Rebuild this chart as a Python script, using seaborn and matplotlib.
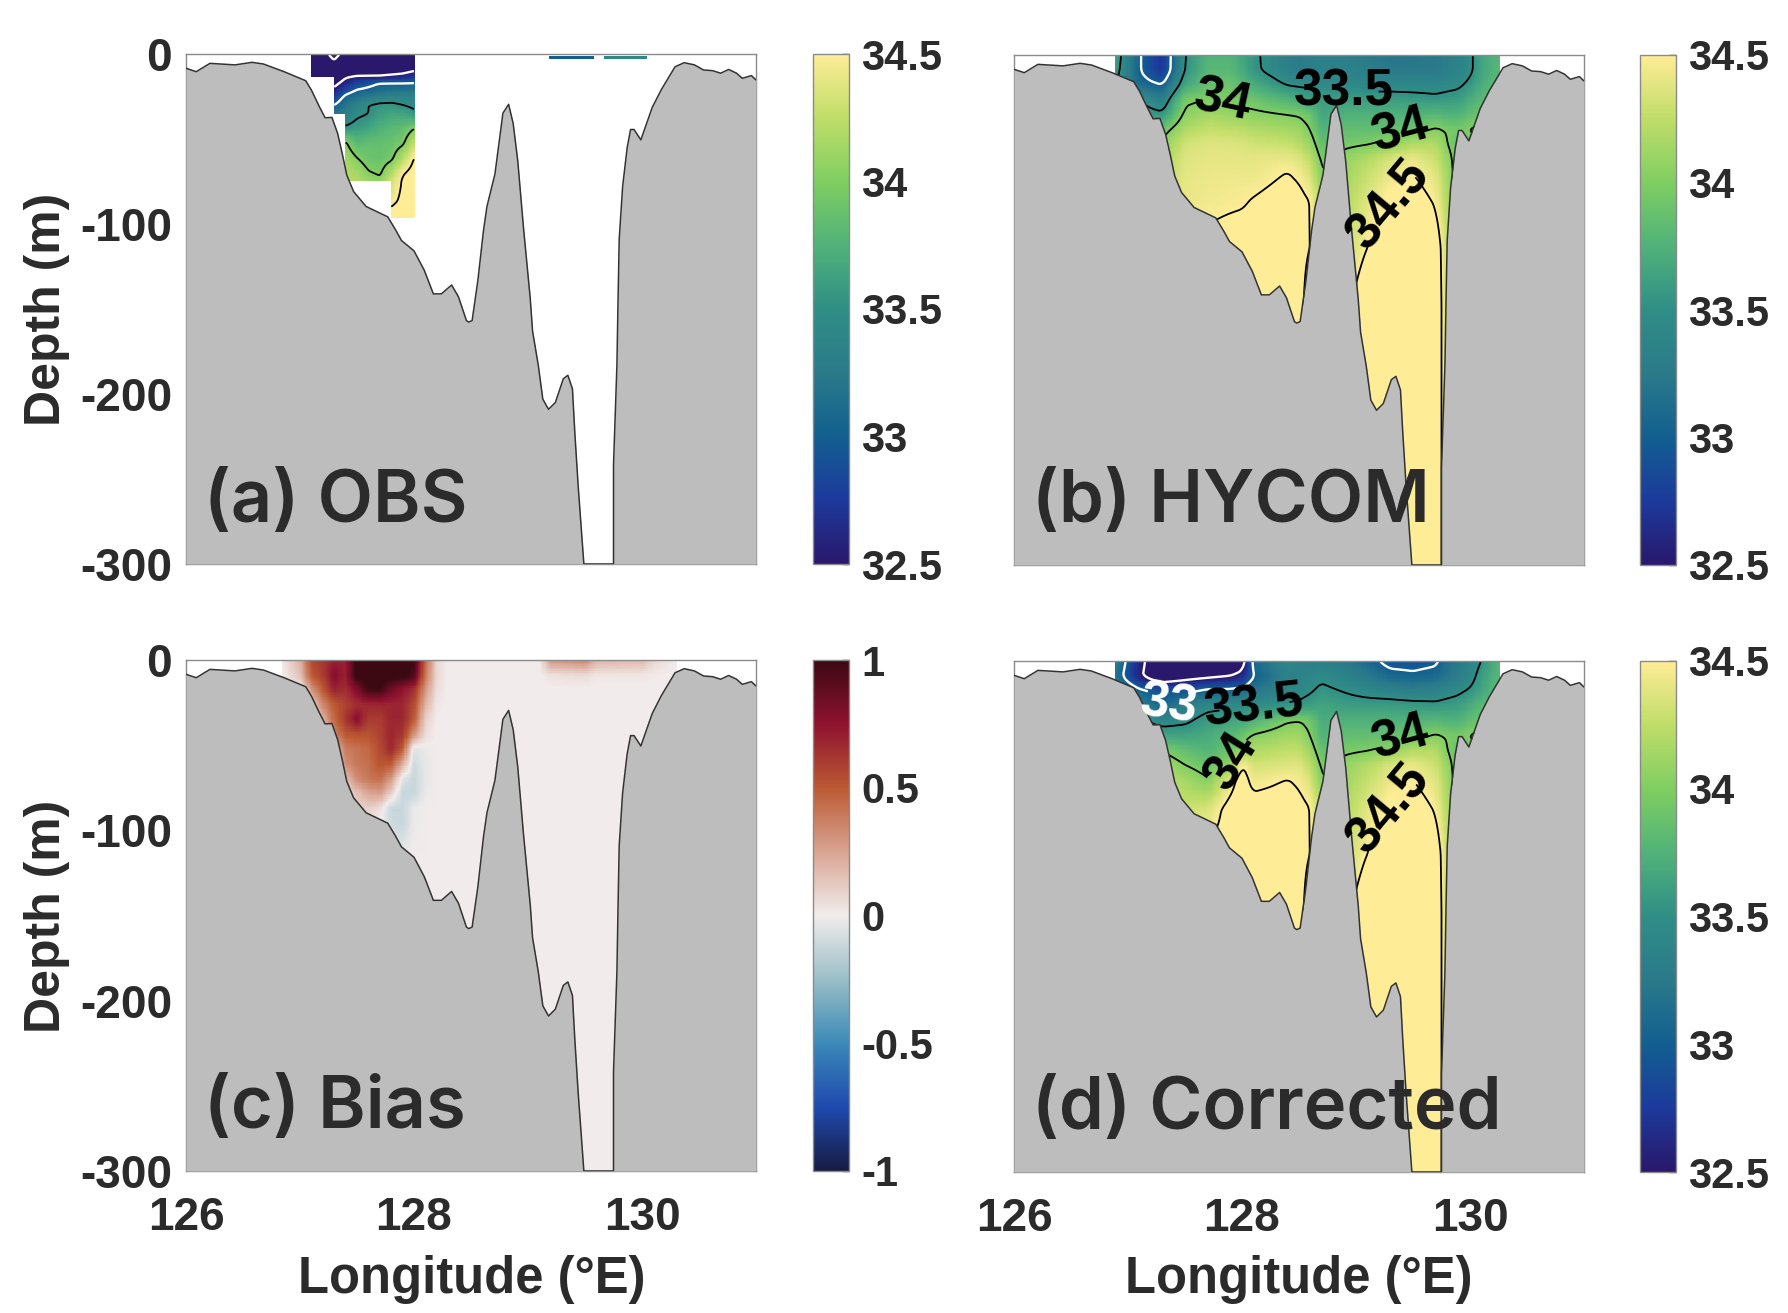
import numpy as np
import matplotlib
matplotlib.use("Agg")
import matplotlib.pyplot as plt
import seaborn as sns

# ---------- data ----------
bathy_lon = [126.00,126.09,126.21,126.43,126.58,126.68,126.86,127.05,127.10,127.17,127.22,127.28,127.33,127.37,127.41,
             127.47,127.58,127.77,127.84,127.89,128.00,128.09,128.17,128.24,128.33,128.39,128.46,128.48,128.51,128.56,
             128.61,128.64,128.71,128.78,128.83,128.87,128.91,128.96,129.02,129.04,129.09,129.13,129.18,129.24,129.31,
             129.35,129.39,129.41,129.44,129.49,129.75,129.75,129.78,129.79,129.80,129.83,129.87,129.90,129.93,129.99,130.04,
             130.09,130.17,130.29,130.37,130.46,130.54,130.62,130.69,130.76,130.83,130.88,130.96,131.00]
bathy_dep = [8.4,10.4,5.5,6.4,4.9,5.9,10.4,15.7,21.2,31,37.5,37.3,46.7,58.4,71.2,
             80.9,89.7,95.8,103.6,109.7,115.8,127.2,141.1,141.1,135.9,142.8,156.8,157.7,156.8,133.3,
             103.6,89.7,70.6,34.8,29.6,40.9,62.7,101.9,144,163,183,203,209,205,191,
             189,197,222,254,300,300,242,183,144,109,78,55,44.4,44.4,50.5,40.9,
             31.4,20.9,7.5,5.1,6.4,9.4,9.8,11.3,9.1,11.3,14.3,12.7,15.3]

grid_lon = [126.89,127.1,127.3,127.5,127.7,127.9,128.0,128.1,128.4,128.5,128.6,128.7,128.9,129.1,129.3,129.5,129.7,129.8,129.9,130.0,130.1,130.26]
grid_dep = [0,9,17,26,35,44,52,61,70,87,113,148,300]

hycom = [
 [33.65,33.02,32.7,33.5,33.75,33.75,33.65,33.55,33.3,33.25,33.3,33.3,33.3,33.25,33.2,33.2,33.25,33.3,33.35,33.45,33.65,33.8],
 [33.6,33.02,32.7,33.52,33.8,33.8,33.7,33.55,33.33,33.3,33.3,33.35,33.35,33.3,33.25,33.25,33.25,33.3,33.35,33.45,33.65,33.8],
 [33.5,33.1,32.98,33.65,33.85,33.9,33.8,33.7,33.47,33.45,33.45,33.45,33.45,33.4,33.4,33.4,33.4,33.42,33.45,33.55,33.7,33.85],
 [33.55,33.5,33.3,33.95,34.0,33.97,33.93,33.9,33.75,33.7,33.6,33.6,33.6,33.6,33.6,33.58,33.55,33.58,33.6,33.7,33.8,33.9],
 [33.6,33.6,33.55,34.05,34.14,34.1,34.07,34.05,34.0,33.98,33.9,33.65,33.75,33.75,33.75,33.75,33.8,33.75,33.75,33.85,33.9,33.95],
 [33.7,33.7,33.9,34.2,34.28,34.26,34.24,34.2,34.15,34.12,34.0,33.75,33.85,33.85,33.87,33.92,34.03,33.98,33.95,34.02,34.05,34.0],
 [33.7,33.8,34.05,34.32,34.37,34.36,34.35,34.32,34.28,34.22,34.1,33.85,33.95,33.98,34.05,34.2,34.2,34.0,33.85,33.9,34.0,34.0],
 [33.8,34.1,34.15,34.37,34.4,34.4,34.4,34.4,34.42,34.37,34.25,33.95,34.08,34.2,34.35,34.42,34.3,34.1,33.85,33.9,34.0,34.0],
 [34.1,34.15,34.2,34.4,34.42,34.43,34.43,34.42,34.51,34.46,34.35,34.0,34.12,34.28,34.42,34.5,34.38,34.15,33.85,33.9,34.0,34.0],
 [34.2,34.2,34.3,34.42,34.45,34.47,34.48,34.52,34.6,34.58,34.5,34.2,34.2,34.38,34.55,34.62,34.48,34.2,33.85,33.9,34.0,34.0],
 [34.3,34.3,34.4,34.5,34.55,34.6,34.62,34.65,34.68,34.65,34.5,34.2,34.25,34.5,34.7,34.7,34.65,34.3,33.9,33.9,34.0,34.0],
 [34.4,34.4,34.5,34.6,34.65,34.7,34.7,34.7,34.7,34.7,34.2,34.2,34.4,34.75,34.75,34.75,34.7,34.3,33.9,33.9,34.0,34.0],
 [34.4,34.4,34.5,34.6,34.65,34.7,34.7,34.7,34.7,34.7,34.2,34.2,34.4,34.75,34.75,34.75,34.7,34.3,33.9,33.9,34.0,34.0],
]
corrected = [
 [33.3,32.6,32.2,32.2,32.2,32.2,32.3,33.1,33.4,33.35,33.3,33.3,33.25,33.1,32.9,32.9,32.95,33.15,33.25,33.35,33.5,33.8],
 [33.2,32.55,32.2,32.35,32.42,32.5,32.62,33.0,33.35,33.35,33.4,33.45,33.35,33.25,33.1,33.05,33.1,33.2,33.3,33.4,33.6,33.8],
 [33.4,33.05,32.9,32.9,33.05,33.05,33.1,33.2,33.4,33.4,33.47,33.55,33.48,33.4,33.35,33.3,33.35,33.4,33.45,33.52,33.65,33.85],
 [33.5,33.3,33.05,33.3,33.42,33.45,33.46,33.47,33.52,33.55,33.6,33.65,33.6,33.6,33.6,33.58,33.55,33.58,33.6,33.7,33.8,33.9],
 [33.6,33.55,33.4,33.45,33.6,33.65,33.68,33.75,33.98,34.0,33.92,33.7,33.75,33.75,33.75,33.75,33.8,33.75,33.75,33.85,33.9,33.95],
 [33.7,33.7,33.65,33.65,33.7,33.8,33.9,34.03,34.14,34.15,34.0,33.75,33.85,33.85,33.87,33.92,34.03,33.98,33.95,34.02,34.05,34.0],
 [33.7,33.8,33.98,33.85,33.75,33.9,34.08,34.18,34.26,34.25,34.1,33.85,33.95,33.98,34.05,34.2,34.2,34.0,33.85,33.9,34.0,34.0],
 [33.8,34.1,34.15,34.0,33.9,34.08,34.5,34.33,34.36,34.38,34.25,33.95,34.08,34.2,34.35,34.42,34.3,34.1,33.85,33.9,34.0,34.0],
 [34.1,34.2,34.25,34.15,34.02,34.4,34.62,34.42,34.51,34.46,34.35,34.0,34.12,34.28,34.42,34.5,34.38,34.15,33.85,33.9,34.0,34.0],
 [34.2,34.3,34.3,34.3,34.35,34.6,34.65,34.62,34.62,34.58,34.5,34.2,34.2,34.38,34.55,34.62,34.48,34.2,33.85,33.9,34.0,34.0],
 [34.3,34.3,34.4,34.5,34.55,34.6,34.65,34.65,34.68,34.65,34.5,34.2,34.25,34.5,34.7,34.7,34.65,34.3,33.9,33.9,34.0,34.0],
 [34.4,34.4,34.5,34.6,34.65,34.7,34.7,34.7,34.7,34.7,34.2,34.2,34.4,34.75,34.75,34.75,34.7,34.3,33.9,33.9,34.0,34.0],
 [34.4,34.4,34.5,34.6,34.65,34.7,34.7,34.7,34.7,34.7,34.2,34.2,34.4,34.75,34.75,34.75,34.7,34.3,33.9,33.9,34.0,34.0],
]

obs_lon = [127.1,127.2,127.3,127.4,127.5,127.6,127.7,127.8,127.9,128.0]
obs_dep = [0,7,13,17,22,26,30,35,44,52,61,70,74,87,96]
n = np.nan
obs = [
 [32.3,32.4,32.6,32.4,32.2,32.2,32.2,32.2,32.2,32.2],
 [32.2,32.3,32.4,32.2,32.2,32.2,32.2,32.2,32.2,32.3],
 [32.2,32.2,32.3,32.45,32.5,32.5,32.5,32.55,32.6,32.7],
 [n,n,32.4,32.6,32.8,32.9,33.0,33.0,33.0,33.0],
 [n,n,32.6,32.9,33.05,33.1,33.15,33.2,33.2,33.25],
 [n,n,32.8,33.1,33.2,33.3,33.35,33.4,33.4,33.4],
 [n,n,33.0,33.2,33.35,33.5,33.55,33.55,33.5,33.45],
 [n,n,33.2,33.3,33.45,33.5,33.6,33.65,33.65,33.55],
 [n,n,n,33.55,33.6,33.65,33.75,33.8,33.85,34.0],
 [n,n,n,34.02,33.8,33.85,33.85,33.88,33.95,34.25],
 [n,n,n,34.15,34.0,33.9,33.88,33.95,34.2,34.5],
 [n,n,n,34.2,34.15,34.02,33.97,34.2,34.47,34.6],
 [n,n,n,34.2,34.2,34.1,34.05,34.3,34.52,34.65],
 [n,n,n,n,n,n,n,34.45,34.55,34.65],
 [n,n,n,n,n,n,n,34.6,34.7,34.7],
]
strip_lon = [129.18,129.58,129.67,130.04]
strip_dep = [1,3]
strip_val = [[33.0,n,33.4]]

bias_lon = [126.85,127.0,127.1,127.2,127.3,127.4,127.5,127.6,127.7,127.8,127.9,128.0,128.1,128.2,128.3,129.1,129.2,129.5,129.6,130.0,130.1,130.3]
bias_dep = [0,9,17,26,35,44,52,61,70,78,87,96,113,300]
bias = [
 [0.02,0.2,0.55,0.62,0.7,0.7,1.05,1.05,1.05,1.05,1.05,1.0,0.45,0.08,0,0,0.3,0.35,0.2,0.18,0.08,0],
 [0,0.15,0.5,0.6,0.78,0.7,1.05,1.05,1.05,1.05,1.05,0.95,0.4,0.07,0,0,0.04,0.06,0.02,0.02,0.01,0],
 [0,0,0.3,0.5,0.7,0.65,0.8,1.0,1.0,0.85,0.75,0.65,0.3,0.05,0,0,0,0,0,0,0,0],
 [0,0,0.1,0.35,0.5,0.58,0.65,0.68,0.68,0.68,0.68,0.55,0.2,0.02,0,0,0,0,0,0,0,0],
 [0,0,0,0.2,0.45,0.62,0.78,0.6,0.6,0.68,0.68,0.5,0.1,0,0,0,0,0,0,0,0,0],
 [0,0,0,0.05,0.35,0.5,0.52,0.52,0.58,0.68,0.62,0.3,0.05,0,0,0,0,0,0,0,0,0],
 [0,0,0,0,0.15,0.38,0.42,0.45,0.55,0.68,0.5,-0.05,-0.02,0,0,0,0,0,0,0,0,0],
 [0,0,0,0,0,0.33,0.4,0.43,0.52,0.5,0.22,-0.1,-0.03,0,0,0,0,0,0,0,0,0],
 [0,0,0,0,0,0.15,0.33,0.4,0.43,0.28,-0.05,-0.12,-0.03,0,0,0,0,0,0,0,0,0],
 [0,0,0,0,0,0.08,0.15,0.25,0.28,0.1,-0.12,-0.12,-0.02,0,0,0,0,0,0,0,0,0],
 [0,0,0,0,0,0.05,0.08,0.1,0.05,-0.12,-0.12,-0.02,0,0,0,0,0,0,0,0,0,0],
 [0,0,0,0,0,0,0.02,0.03,0,-0.1,-0.12,-0.02,0,0,0,0,0,0,0,0,0,0],
 [0,0,0,0,0,0,0,0,0,-0.05,-0.03,0,0,0,0,0,0,0,0,0,0,0],
 [0,0,0,0,0,0,0,0,0,0,0,0,0,0,0,0,0,0,0,0,0,0],
]

sal_ticks = [32.5,33,33.5,34,34.5]
bias_ticks = [-1,-0.5,0,0.5,1]
depth_ticks = [0,-100,-200,-300]
lon_ticks = [126,128,130]

# ---------- styling ----------
sns.set_theme(style="white")
plt.rcParams["font.family"] = ["Liberation Sans", "DejaVu Sans"]
plt.rcParams["font.weight"] = "bold"
plt.rcParams["axes.unicode_minus"] = False
INK = "#2b2b2b"
haline = sns.blend_palette(["#2A186C","#1C3A9C","#125F90","#2A7A8A","#2F8E86","#50B27A","#7FCE62","#BEDD68","#FEEC96"], as_cmap=True)
balance = sns.blend_palette(["#181C43","#1F4AB0","#3B8AB8","#9ABFC8","#F1ECEC","#D9A593","#BC5A33","#8F1230","#3C0912"], as_cmap=True)

W, H = 1788, 1313
fig = plt.figure(figsize=(W/100, H/100), dpi=100, facecolor="white")
def box(l, t, r, b):
    return [l/W, 1-b/H, (r-l)/W, (b-t)/H]

def fine(lons, deps, vals, dx=0.01, dz=1.0, win=(5,5)):
    xf = np.arange(lons[0], lons[-1]+dx/2, dx)
    zf = np.arange(deps[0], deps[-1]+dz/2, dz)
    v = np.asarray(vals, float)
    a = np.array([np.interp(xf, lons, r) for r in v])
    a = np.array([np.interp(zf, deps, c) for c in a.T]).T
    mask = np.isnan(a)
    w = (~mask).astype(float); b = np.where(mask, 0.0, a)
    for ax_, k in ((1, win[0]), (0, win[1])):
        ker = np.ones(k)/k
        def cv(y):
            return np.convolve(np.pad(y, k//2, mode="edge"), ker, mode="valid")
        b = np.apply_along_axis(cv, ax_, b); w = np.apply_along_axis(cv, ax_, w)
    out = np.where(w > 0, b/np.maximum(w, 1e-9), np.nan)
    out[mask] = np.nan
    return xf, -zf, out

land_y = [-d for d in bathy_dep]
def finish(ax, left, bottom):
    ax.fill_between(bathy_lon, land_y, -300, color="#BDBDBD", lw=0, zorder=3)
    sns.lineplot(x=bathy_lon, y=land_y, sort=False, estimator=None, color="#333333", lw=1.1, ax=ax, zorder=4, legend=False)
    ax.set_xlim(126, 131); ax.set_ylim(-300, 0)
    ax.set_xticks(lon_ticks); ax.set_yticks(depth_ticks)
    ax.set_xlabel(""); ax.set_ylabel("")
    ax.tick_params(length=0, labelcolor=INK)
    for s in ax.spines.values():
        s.set_color("#8a8a8a"); s.set_linewidth(1)
    ax.tick_params(axis="y", pad=10, labelsize=33, labelleft=left)
    ax.tick_params(axis="x", pad=18, labelsize=33, labelbottom=bottom)

def contours(ax, x, z, f, labels=()):
    ck = ax.contour(x, z, f, levels=[33.5,34,34.5], colors="black", linewidths=1.3, zorder=2)
    cw = ax.contour(x, z, f, levels=[32.5,33], colors="white", linewidths=1.7, zorder=2)
    for lon, dep, rot, col in labels:
        c = ck if col == "black" else cw
        ax.clabel(c, manual=[(lon, -dep)], fontsize=37, inline=True, inline_spacing=2,
                  fmt=lambda v: f"{v:g}", colors=col)
        t = c.labelTexts[-1]
        t.set_rotation(rot); t.set_zorder(6); t.set_fontweight("bold")
        t.set_position((lon, -dep))

def panel_label(ax, s):
    ax.text(126.16, -275, s, fontsize=52, family="Inter", fontweight=600, color=INK, zorder=8, va="baseline")

def cbar(mappable, l, t, r, b, ticks, fmt):
    cax = fig.add_axes(box(l, t, r, b))
    cb = fig.colorbar(mappable, cax=cax, ticks=ticks)
    cb.ax.set_yticklabels([fmt(v) for v in ticks])
    cb.ax.tick_params(direction="in", length=5, width=1, color=INK, labelsize=30, labelcolor=INK, pad=9)
    cb.outline.set_edgecolor("#8a8a8a"); cb.outline.set_linewidth(1)
    return cb

AX = {"a":(186,54,756,564),"b":(1014,55,1584,565),"c":(186,660,756,1171),"d":(1014,661,1584,1172)}
fmt = lambda v: f"{v:g}"

# (a)
ax = fig.add_axes(box(*AX["a"]))
x, z, f = fine(obs_lon, obs_dep, obs, win=(3,3))
m = ax.pcolormesh(x, z, f, cmap=haline, vmin=32.5, vmax=34.5, shading="nearest", zorder=1)
ax.pcolormesh(strip_lon, [-d for d in strip_dep], strip_val, cmap=haline, vmin=32.5, vmax=34.5, zorder=1)
contours(ax, x, z, f)
finish(ax, True, False)
panel_label(ax, "(a) OBS")
cbar(m, 813, 54, 849, 564, sal_ticks, fmt)

# (b)
ax = fig.add_axes(box(*AX["b"]))
x, z, f = fine(grid_lon, grid_dep, hycom, win=(7,5))
m = ax.pcolormesh(x, z, f, cmap=haline, vmin=32.5, vmax=34.5, shading="nearest", zorder=1)
contours(ax, x, z, f, [(127.83,27,-12,"black"),(128.89,22,0,"black"),(129.39,45,15,"black"),(129.29,88,50,"black")])
finish(ax, False, False)
panel_label(ax, "(b) HYCOM")
cbar(m, 1640, 55, 1676, 565, sal_ticks, fmt)

# (c)
ax = fig.add_axes(box(*AX["c"]))
x, z, f = fine(bias_lon, bias_dep, bias, win=(3,3))
m = ax.pcolormesh(x, z, f, cmap=balance, vmin=-1, vmax=1, shading="nearest", zorder=1)
finish(ax, True, True)
panel_label(ax, "(c) Bias")
cbar(m, 813, 660, 849, 1171, bias_ticks, fmt)

# (d)
ax = fig.add_axes(box(*AX["d"]))
x, z, f = fine(grid_lon, grid_dep, corrected, win=(7,5))
m = ax.pcolormesh(x, z, f, cmap=haline, vmin=32.5, vmax=34.5, shading="nearest", zorder=1)
contours(ax, x, z, f, [(127.36,26,-8,"white"),(128.11,27,6,"black"),(127.91,59,58,"black"),(129.39,45,15,"black"),(129.29,87,50,"black")])
finish(ax, False, True)
panel_label(ax, "(d) Corrected")
cbar(m, 1640, 661, 1676, 1172, sal_ticks, fmt)

# axis titles
for cx in (472, 1299):
    fig.text(cx/W, 1-1279/H, "Longitude (°E)", ha="center", va="center", fontsize=36.5, color=INK)
for cy in (309, 916):
    fig.text(47/W, 1-cy/H, "Depth (m)", rotation=90, ha="center", va="center", fontsize=36, color=INK)

fig.savefig("out.png", dpi=100, facecolor="white")
